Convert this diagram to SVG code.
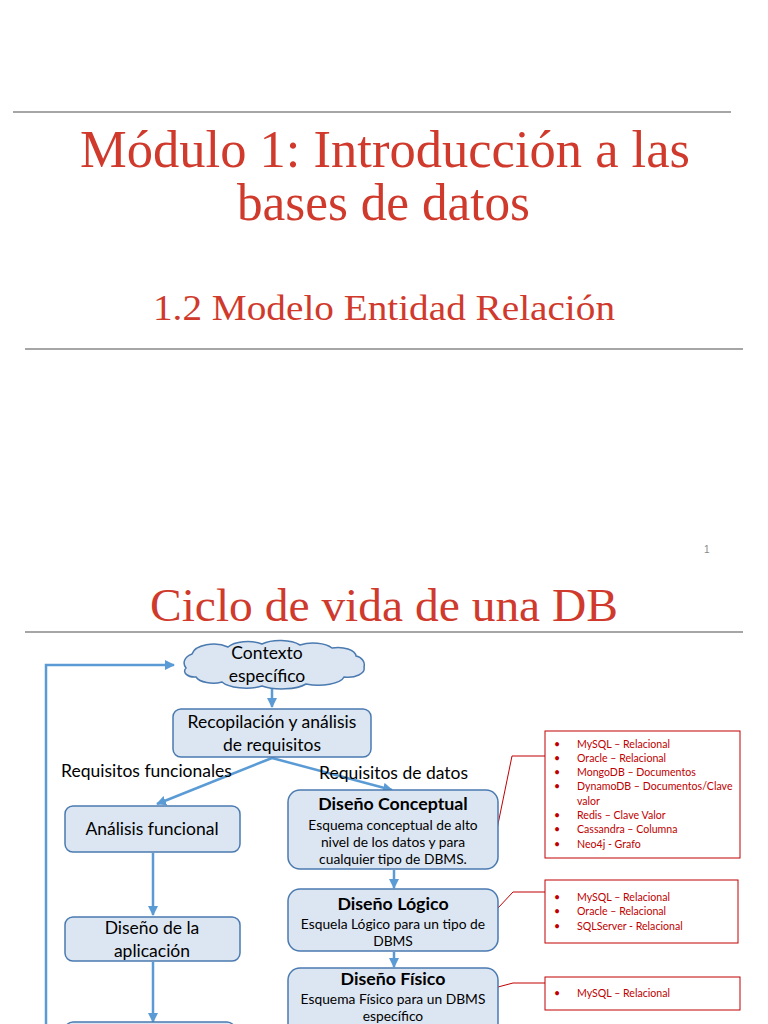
<svg xmlns="http://www.w3.org/2000/svg" width="768" height="1024" viewBox="0 0 768 1024">
<defs>
<style>
.rule{stroke:#a6a6a6;stroke-width:2;fill:none}
.title{font-family:"Liberation Serif",serif;fill:#d03a2c}
.box{fill:#dce6f2;stroke:#4a7ab0;stroke-width:1.5}
.t{font-family:Lato,"Liberation Sans",sans-serif;fill:#000;text-anchor:middle}
.lbl{font-family:Lato,"Liberation Sans",sans-serif;fill:#000;font-size:17.5px}
.b{font-weight:bold;font-size:17.8px}
.s{font-size:13.8px}
.n{font-size:17.5px}
.conn{stroke:#5b9bd5;stroke-width:2.5;fill:none}
.red{stroke:#c00000;stroke-width:1;fill:#fff}
.redl{stroke:#c00000;stroke-width:1;fill:none}
.li{font-family:Lato,"Liberation Sans",sans-serif;fill:#c00000;font-size:10.6px}
</style>
<marker id="ah" viewBox="0 0 10 10" refX="9" refY="5" markerWidth="4" markerHeight="4" orient="auto" markerUnits="strokeWidth">
<path d="M0,0 L10,5 L0,10 z" fill="#5b9bd5"/>
</marker>
</defs>
<rect width="768" height="1024" fill="#fff"/>
<line class="rule" x1="13" y1="112" x2="731" y2="112"/>
<text class="title" x="80" y="167" font-size="52" textLength="610" lengthAdjust="spacingAndGlyphs">Módulo 1: Introducción a las</text>
<text class="title" x="237" y="220" font-size="52" textLength="293" lengthAdjust="spacingAndGlyphs">bases de datos</text>
<text class="title" x="153" y="320" font-size="35" textLength="462" lengthAdjust="spacingAndGlyphs">1.2 Modelo Entidad Relación</text>
<line class="rule" x1="25" y1="349" x2="743" y2="349"/>
<text x="704" y="553" font-family="Liberation Sans,sans-serif" font-size="10" fill="#888">1</text>
<text class="title" x="150" y="621" font-size="46" textLength="468" lengthAdjust="spacingAndGlyphs">Ciclo de vida de una DB</text>
<line class="rule" x1="25" y1="632" x2="743" y2="632"/>

<g id="connectors">
<polyline class="conn" points="46,1024 46,665 174,665" marker-end="url(#ah)"/>
<line class="conn" x1="272" y1="687" x2="272" y2="707" marker-end="url(#ah)"/>
<line class="conn" x1="272" y1="758" x2="157" y2="804" marker-end="url(#ah)"/>
<line class="conn" x1="272" y1="758" x2="392" y2="790" marker-end="url(#ah)"/>
<line class="conn" x1="153" y1="853" x2="153" y2="915" marker-end="url(#ah)"/>
<line class="conn" x1="153" y1="962" x2="153" y2="1022" marker-end="url(#ah)"/>
<line class="conn" x1="394" y1="870" x2="394" y2="888" marker-end="url(#ah)"/>
<line class="conn" x1="394" y1="952" x2="394" y2="967" marker-end="url(#ah)"/>
<polyline class="redl" points="497,829 512,756 545,756"/>
<polyline class="redl" points="498,908 513,892 545,892"/>
<polyline class="redl" points="498,987 513,983 545,983"/>
</g>

<text class="lbl" x="61" y="777">Requisitos funcionales</text>
<text class="lbl" x="319" y="779">Requisitos de datos</text>

<g id="contexto">
<path class="box" d="M186,668 A14,10 0 0 1 192,654 A22,12 0 0 1 228,647 A22,10 0 0 1 262,644 A24,10 0 0 1 300,645 A22,10 0 0 1 332,648 A18,9 0 0 1 356,656 A10,9 0 0 1 364,667 A16,9 0 0 1 344,677 A26,10 0 0 1 306,684 A28,10 0 0 1 262,686 A26,10 0 0 1 222,682 A18,9 0 0 1 196,677 A10,6 0 0 1 186,668 Z"/>
<text class="t n" x="267" y="659">Contexto</text>
<text class="t n" x="267" y="682">específico</text>
</g>

<g id="recopilacion">
<rect class="box" x="173" y="709" width="198" height="48" rx="8"/>
<text class="t n" x="272" y="728">Recopilación y análisis</text>
<text class="t n" x="272" y="751">de requisitos</text>
</g>

<g id="analisis">
<rect class="box" x="65" y="806" width="175" height="46" rx="8"/>
<text class="t n" x="152" y="835">Análisis funcional</text>
</g>

<g id="aplicacion">
<rect class="box" x="65" y="917" width="175" height="44" rx="8"/>
<text class="t n" x="152" y="934">Diseño de la</text>
<text class="t n" x="152" y="957">aplicación</text>
</g>

<g id="bottom">
<rect class="box" x="65" y="1022" width="170" height="20" rx="8"/>
</g>

<g id="conceptual">
<rect class="box" x="288" y="790" width="210" height="79" rx="12"/>
<text class="t b" x="393" y="810">Diseño Conceptual</text>
<text class="t s" x="393" y="830">Esquema conceptual de alto</text>
<text class="t s" x="393" y="847">nivel de los datos y para</text>
<text class="t s" x="393" y="864">cualquier tipo de DBMS.</text>
</g>

<g id="logico">
<rect class="box" x="288" y="889" width="210" height="62" rx="12"/>
<text class="t b" x="393" y="910">Diseño Lógico</text>
<text class="t s" x="393" y="929">Esquela Lógico para un tipo de</text>
<text class="t s" x="393" y="946">DBMS</text>
</g>

<g id="fisico">
<rect class="box" x="288" y="968" width="210" height="70" rx="12"/>
<text class="t b" x="393" y="985">Diseño Físico</text>
<text class="t s" x="393" y="1004">Esquema Físico para un DBMS</text>
<text class="t s" x="393" y="1021">específico</text>
</g>

<g id="list1">
<rect class="red" x="545" y="731" width="195" height="127"/>
<g class="li">
<text x="554" y="748">•</text><text x="577" y="748">MySQL – Relacional</text>
<text x="554" y="762">•</text><text x="577" y="762">Oracle – Relacional</text>
<text x="554" y="776">•</text><text x="577" y="776">MongoDB – Documentos</text>
<text x="554" y="790">•</text><text x="577" y="790">DynamoDB – Documentos/Clave</text>
<text x="577" y="805">valor</text>
<text x="554" y="819">•</text><text x="577" y="819">Redis – Clave Valor</text>
<text x="554" y="833">•</text><text x="577" y="833">Cassandra – Columna</text>
<text x="554" y="848">•</text><text x="577" y="848">Neo4j - Grafo</text>
</g>
</g>

<g id="list2">
<rect class="red" x="545" y="880" width="193" height="63"/>
<g class="li">
<text x="554" y="901">•</text><text x="577" y="901">MySQL – Relacional</text>
<text x="554" y="915">•</text><text x="577" y="915">Oracle – Relacional</text>
<text x="554" y="930">•</text><text x="577" y="930">SQLServer - Relacional</text>
</g>
</g>

<g id="list3">
<rect class="red" x="545" y="977" width="195" height="33"/>
<g class="li">
<text x="554" y="997">•</text><text x="577" y="997">MySQL – Relacional</text>
</g>
</g>
</svg>
